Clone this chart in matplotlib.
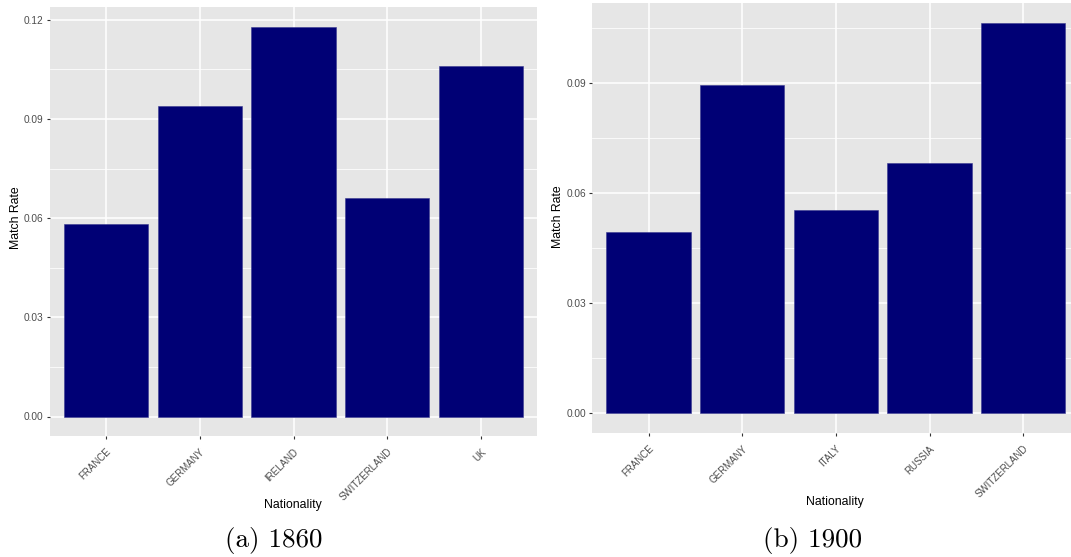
import matplotlib
matplotlib.use("Agg")
import matplotlib.pyplot as plt
import numpy as np

plt.rcParams['font.family'] = ['Liberation Sans', 'DejaVu Sans']

cats_1860 = ["FRANCE", "GERMANY", "IRELAND", "SWITZERLAND", "UK"]
rate_1860 = [0.0583, 0.0940, 0.1180, 0.0662, 0.1060]
cats_1900 = ["FRANCE", "GERMANY", "ITALY", "RUSSIA", "SWITZERLAND"]
rate_1900 = [0.0494, 0.0897, 0.0554, 0.0682, 0.1066]
yticks_1860 = [0.00, 0.03, 0.06, 0.09, 0.12]
yticks_1900 = [0.00, 0.03, 0.06, 0.09]
captions = ["(a) 1860", "(b) 1900"]

W, H = 1071, 557
fig = plt.figure(figsize=(W/100, H/100), dpi=100)

def px_axes(x0, x1, ytop, ybot):
    return fig.add_axes([x0/W, 1-ybot/H, (x1-x0)/W, (ybot-ytop)/H])

def draw(ax, cats, vals, yticks):
    ax.set_facecolor('#E6E6E6')
    x = np.arange(1, len(cats)+1)
    ax.bar(x, vals, width=0.9, color='#000075', edgecolor='#3a3a90', linewidth=0.4, zorder=3)
    vmax = max(vals)
    ax.set_yticks(yticks)
    ax.set_yticklabels([f"{t:.2f}" for t in yticks])
    minor = [t+0.015 for t in yticks]
    ax.set_yticks(minor, minor=True)
    ax.set_xticks(x)
    ax.set_xticklabels(cats, rotation=45, ha='right', va='top', rotation_mode='anchor')
    ax.set_xlim(0.4, len(cats)+0.6)
    ax.set_ylim(-0.05*vmax, 1.05*vmax)
    ax.grid(which='major', color='white', linewidth=1.1, zorder=0)
    ax.grid(which='minor', axis='y', color='white', linewidth=0.55, zorder=0)
    ax.set_axisbelow(True)
    for s in ax.spines.values():
        s.set_visible(False)
    ax.tick_params(axis='y', which='major', length=2.5, width=0.8, color='#333333',
                   labelsize=7.3, labelcolor='#4D4D4D', pad=2)
    ax.tick_params(axis='x', which='major', length=2.5, width=0.8, color='#333333',
                   labelsize=7, labelcolor='#4D4D4D', pad=5)
    ax.tick_params(axis='y', which='minor', length=0)

ax1 = px_axes(50, 537, 7, 436)
draw(ax1, cats_1860, rate_1860, yticks_1860)
ax2 = px_axes(592.3, 1079.5, 3, 433)
draw(ax2, cats_1900, rate_1900, yticks_1900)

fig.text(16/W, 1-218/H, "Match Rate", rotation=90, ha='center', va='center', fontsize=8.8, color='black')
fig.text(558/W, 1-217/H, "Match Rate", rotation=90, ha='center', va='center', fontsize=8.8, color='black')
fig.text(293/W, 1-505/H, "Nationality", ha='center', va='center', fontsize=8.8, color='black')
fig.text(835/W, 1-502/H, "Nationality", ha='center', va='center', fontsize=8.8, color='black')

fig.text(274/W, 1-541/H, captions[0], ha='center', va='center', fontsize=19.5, family=['cmr10', 'DejaVu Serif'])
fig.text(813/W, 1-541/H, captions[1], ha='center', va='center', fontsize=19.5, family=['cmr10', 'DejaVu Serif'])

fig.savefig("out.png", dpi=100)
